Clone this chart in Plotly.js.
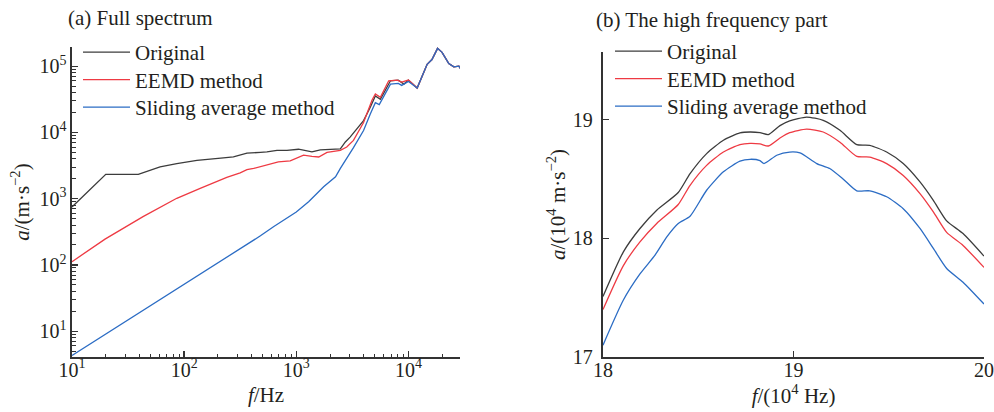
<!DOCTYPE html>
<html>
<head>
<meta charset="utf-8">
<script src="https://cdn.plot.ly/plotly-3.0.1.min.js"></script>
<style>html,body{margin:0;padding:0;background:#fff;}#chart{width:994px;height:412px;}</style>
</head>
<body>
<div id="chart"></div>
<script>
// ---------- Panel (a): full spectrum (Hz, m/s^2) ----------
const fullFreqOrig = [10, 20, 39, 61, 86, 130, 224, 275, 363, 416, 479, 547, 673, 826, 1047, 1380, 1637, 2472, 2739, 3020, 3981, 4571, 5070, 5623, 6240, 6918, 8128, 9120, 10000, 11967, 14689, 16218, 18197, 19953, 22909, 25410, 28184, 29512];
const fullAmpOrig  = [750, 2330, 2330, 3020, 3390, 3800, 4130, 4270, 4860, 4990, 5010, 5090, 5370, 5350, 5580, 5090, 5460, 5650, 7190, 8500, 15100, 24000, 35500, 31600, 44700, 60300, 61700, 53700, 61700, 46800, 107000, 126000, 186000, 162000, 110000, 97700, 100000, 89100];

const fullFreqEEMD = [10, 19.7, 43, 86, 139, 240, 316, 363, 417, 547, 692, 883, 1161, 1380, 1585, 1879, 2472, 2818, 3236, 3981, 4742, 5070, 5623, 6668, 7943, 8710, 10000, 11967, 14689, 16218, 18197, 19953, 22909, 25410, 28184, 29512];
const fullAmpEEMD  = [112, 245, 537, 1014, 1432, 2090, 2455, 2750, 2864, 3214, 3597, 3715, 4540, 4365, 4266, 5012, 5370, 6026, 7586, 14125, 30900, 38000, 33900, 60300, 61700, 57500, 61700, 46800, 107000, 126000, 186000, 162000, 110000, 97700, 100000, 89100];

const fullFreqSlide = [10, 31.6, 100, 316, 479, 631, 1000, 1288, 1754, 2239, 2472, 3236, 3981, 4571, 5070, 5495, 6310, 6918, 8128, 8710, 10000, 11967, 14689, 16218, 18197, 19953, 22909, 25410, 28184, 29512];
const fullAmpSlide  = [4.3, 14.8, 50.7, 179, 275, 380, 631, 900, 1514, 2138, 2864, 5890, 10700, 19050, 28180, 26300, 39800, 53700, 55000, 51300, 58900, 46800, 107000, 126000, 186000, 162000, 110000, 97700, 100000, 89100];

// ---------- Panel (b): high frequency part (10^4 Hz, 10^4 m/s^2) ----------
const hfFreq = [18.000, 18.107, 18.194, 18.282, 18.395, 18.457, 18.544, 18.632, 18.719, 18.772, 18.824, 18.868, 18.929, 18.980, 19.069, 19.156, 19.244, 19.332, 19.400, 19.489, 19.576, 19.664, 19.734, 19.804, 19.890, 20.000];
const hfOrig = [17.51, 17.886, 18.083, 18.237, 18.386, 18.545, 18.714, 18.826, 18.888, 18.896, 18.89, 18.874, 18.95, 18.99, 19.022, 18.994, 18.91, 18.79, 18.784, 18.727, 18.63, 18.475, 18.32, 18.147, 18.04, 17.85];
const hfEEMD = [17.40, 17.77, 17.97, 18.125, 18.285, 18.447, 18.615, 18.727, 18.79, 18.80, 18.795, 18.778, 18.845, 18.89, 18.92, 18.896, 18.81, 18.69, 18.685, 18.63, 18.53, 18.377, 18.223, 18.05, 17.94, 17.755];
const hfFreqSlide = [18.000, 18.107, 18.194, 18.273, 18.334, 18.395, 18.457, 18.544, 18.632, 18.719, 18.772, 18.824, 18.845, 18.912, 18.980, 19.034, 19.122, 19.190, 19.260, 19.332, 19.400, 19.489, 19.576, 19.664, 19.734, 19.804, 19.890, 20.000];
const hfSlide = [17.10, 17.48, 17.70, 17.858, 18.01, 18.125, 18.186, 18.405, 18.56, 18.65, 18.666, 18.655, 18.63, 18.70, 18.727, 18.72, 18.63, 18.588, 18.50, 18.40, 18.40, 18.35, 18.25, 18.083, 17.915, 17.746, 17.63, 17.446];

const seriesNames = ['Original', 'EEMD method', 'Sliding average method'];
const majorLogX = [10, 100, 1000, 10000];
const majorLogXText = ['10<sup>1</sup>', '10<sup>2</sup>', '10<sup>3</sup>', '10<sup>4</sup>'];
const majorLogY = [10, 100, 1000, 10000, 100000];
const majorLogYText = ['10<sup>1</sup>', '10<sup>2</sup>', '10<sup>3</sup>', '10<sup>4</sup>', '10<sup>5</sup>'];
const linTicksX = [18, 19, 20];
const linTicksY = [17, 18, 19];

const colors = ['#3c3c3c', '#ee3a43', '#2b6cc4'];
const FONT = 'Liberation Serif, Times New Roman, serif';
const TXT = '#231f20';

function minorVals(decades) {
  const out = [];
  decades.forEach(d => { for (let k = 2; k <= 9; k++) out.push(k * d); });
  return out;
}

const traces = [
  {x: fullFreqOrig, y: fullAmpOrig, name: seriesNames[0], xaxis: 'x', yaxis: 'y', legend: 'legend'},
  {x: fullFreqEEMD, y: fullAmpEEMD, name: seriesNames[1], xaxis: 'x', yaxis: 'y', legend: 'legend'},
  {x: fullFreqSlide, y: fullAmpSlide, name: seriesNames[2], xaxis: 'x', yaxis: 'y', legend: 'legend'},
  {x: hfFreq, y: hfOrig, name: seriesNames[0], xaxis: 'x2', yaxis: 'y2', legend: 'legend2', line: {shape: 'spline', smoothing: 0.6}},
  {x: hfFreq, y: hfEEMD, name: seriesNames[1], xaxis: 'x2', yaxis: 'y2', legend: 'legend2', line: {shape: 'spline', smoothing: 0.6}},
  {x: hfFreqSlide, y: hfSlide, name: seriesNames[2], xaxis: 'x2', yaxis: 'y2', legend: 'legend2', line: {shape: 'spline', smoothing: 0.6}}
].map((t, i) => {
  t.type = 'scatter';
  t.mode = 'lines';
  t.line = Object.assign({color: colors[i % 3], width: 1.3}, t.line || {});
  t.hoverinfo = 'skip';
  return t;
});

const axisCommon = {
  showline: true, linecolor: '#333', linewidth: 1.6,
  ticks: 'inside', tickcolor: '#333', tickwidth: 1.3, ticklen: 6,
  showgrid: false, zeroline: false,
  tickfont: {family: FONT, size: 20, color: TXT},
  mirror: false
};

const titleFont = {family: FONT, size: 21, color: TXT};

const legendCommon = {
  font: {family: FONT, size: 21, color: TXT},
  bgcolor: 'rgba(0,0,0,0)', borderwidth: 0,
  xanchor: 'left', yanchor: 'top',
  itemwidth: 47
};

const layout = {
  width: 994, height: 412,
  margin: {l: 0, r: 0, t: 0, b: 0},
  paper_bgcolor: '#fff', plot_bgcolor: '#fff',
  showlegend: true,
  font: {family: FONT, color: TXT},
  xaxis: Object.assign({}, axisCommon, {
    type: 'log', domain: [72/994, 460/994], range: [1, 4.46], anchor: 'y',
    tickmode: 'array', tickvals: majorLogX, ticktext: majorLogXText,
    ticklabelstandoff: -6,
    minor: {tickmode: 'array', tickvals: minorVals([10, 100, 1000, 10000]), ticks: 'inside', ticklen: 3.5, tickcolor: '#333', tickwidth: 1, showgrid: false},
    title: {text: '<i>f</i>/Hz', font: titleFont, standoff: 8}
  }),
  yaxis: Object.assign({}, axisCommon, {
    type: 'log', domain: [(412-357)/412, (412-47)/412], range: [0.61, 5.29], anchor: 'x',
    tickmode: 'array', tickvals: majorLogY, ticktext: majorLogYText,
    minor: {tickmode: 'array', tickvals: minorVals([1, 10, 100, 1000, 10000, 100000]), ticks: 'inside', ticklen: 3.5, tickcolor: '#333', tickwidth: 1, showgrid: false},
    title: {text: '<i>a</i>/(m·s<sup>−2</sup>)', font: titleFont, standoff: 4}
  }),
  xaxis2: Object.assign({}, axisCommon, {
    domain: [603/994, 984/994], range: [18, 20], anchor: 'y2',
    tickmode: 'array', tickvals: linTicksX,
    linewidth: 2.2, ticklabelstandoff: -6,
    title: {text: '<i>f</i>/(10<sup>4</sup> Hz)', font: titleFont, standoff: 8}
  }),
  yaxis2: Object.assign({}, axisCommon, {
    domain: [(412-357)/412, (412-52)/412], range: [17, 19.57], anchor: 'x2',
    tickmode: 'array', tickvals: linTicksY,
    linewidth: 2.2, ticklabelstandoff: 4,
    title: {text: '<i>a</i>/(10<sup>4</sup> m·s<sup>−2</sup>)', font: titleFont, standoff: 2}
  }),
  legend: Object.assign({}, legendCommon, {x: 78/994, y: 1 - 32/412}),
  legend2: Object.assign({}, legendCommon, {x: 610/994, y: 1 - 31/412}),
  annotations: [
    {text: '(a) Full spectrum', xref: 'paper', yref: 'paper', x: 66/994, y: 1 - 4/412, xanchor: 'left', yanchor: 'top', showarrow: false, font: titleFont},
    {text: '(b) The high frequency part', xref: 'paper', yref: 'paper', x: 594/994, y: 1 - 6/412, xanchor: 'left', yanchor: 'top', showarrow: false, font: titleFont}
  ]
};

Plotly.newPlot('chart', traces, layout, {staticPlot: true, displayModeBar: false}).then(gd => {
  // tighten legend row spacing to match the reference (~27.5px per row)
  gd.querySelectorAll('g.legend, g.legend2, g[class^="legend"]').forEach(lg => {
    const items = lg.querySelectorAll('g.traces');
    if (!items.length) return;
    const m0 = /translate\(\s*([-\d.]+)[ ,]+([-\d.]+)\)/.exec(items[0].getAttribute('transform') || '');
    if (!m0) return;
    const x0 = parseFloat(m0[1]), y0 = parseFloat(m0[2]);
    items.forEach((it, i) => {
      it.setAttribute('transform', 'translate(' + x0 + ',' + (y0 + i * 27.5) + ')');
    });
  });
});
</script>
</body>
</html>
